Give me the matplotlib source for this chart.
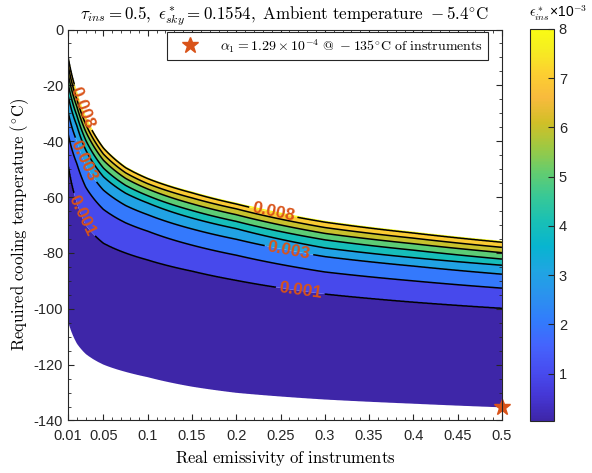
import matplotlib
matplotlib.use('Agg')
import matplotlib.pyplot as plt
import numpy as np
from matplotlib.cm import ScalarMappable
from matplotlib.colors import LinearSegmentedColormap, Normalize
from matplotlib.ticker import FixedLocator, MultipleLocator

plt.rcParams['mathtext.fontset'] = 'cm'
plt.rcParams['font.family'] = ['Liberation Sans', 'DejaVu Sans']
plt.rcParams['axes.unicode_minus'] = False

emissivity = [0.01, 0.02, 0.03, 0.05, 0.075, 0.1, 0.15, 0.2, 0.3, 0.4, 0.5]

# temperature (deg C) of each contour, one value per emissivity above
t_bottom = [-104.6, -112.5, -116.2, -120.0, -122.6, -124.5, -127.9, -130.1, -132.5, -134.0, -135.3]
t_lvl1 = [-48.0, -62.0, -70.0, -76.5, -80.0, -82.5, -86.5, -89.8, -94.7, -97.6, -99.8]
t_lvl2 = [-37.1, -48.0, -56.4, -64.4, -69.2, -72.2, -77.2, -80.8, -86.8, -90.0, -92.6]
t_lvl3 = [-29.3, -40.0, -48.6, -57.5, -63.0, -66.3, -71.4, -75.1, -81.3, -84.7, -87.6]
t_lvl4 = [-23.4, -34.4, -43.1, -52.7, -58.6, -62.1, -67.5, -71.3, -78.2, -81.7, -84.4]
t_lvl5 = [-19.1, -30.8, -39.6, -49.6, -55.8, -59.5, -64.8, -68.7, -75.3, -79.0, -82.2]
t_lvl6 = [-15.6, -27.6, -36.5, -46.8, -53.3, -57.1, -62.4, -66.3, -73.0, -76.7, -79.9]
t_lvl7 = [-12.5, -25.0, -33.9, -44.6, -51.3, -55.2, -60.3, -64.2, -70.9, -74.7, -78.0]
t_lvl8 = [-9.8, -22.6, -31.6, -42.5, -49.5, -53.4, -58.5, -62.5, -69.0, -72.9, -76.2]
t_top = [-9.0, -22.0, -31.0, -42.0, -49.0, -53.0, -58.0, -62.0, -68.5, -72.4, -75.7]

levels = [0.001, 0.002, 0.003, 0.004, 0.005, 0.006, 0.007, 0.008]
labelled_levels = [0.001, 0.003, 0.008]
eps_bottom = 0.0     # value on the lower edge of the region
eps_top = 0.0081     # value on the upper edge of the region
cbar_min = 0.00004

x_ticks = [0.01, 0.05, 0.1, 0.15, 0.2, 0.25, 0.3, 0.35, 0.4, 0.45, 0.5]
x_tick_labels = ['0.01', '0.05', '0.1', '0.15', '0.2', '0.25', '0.3', '0.35', '0.4', '0.45', '0.5']
star_point = (0.5, -135)

# parula (MATLAB) colour map
parula_rgb = [
    (0.2422, 0.1504, 0.6603), (0.2706, 0.2147, 0.8364), (0.2813, 0.3006, 0.9414),
    (0.2699, 0.3892, 0.9906), (0.1963, 0.4847, 0.9892), (0.1687, 0.5703, 0.9359),
    (0.1248, 0.6459, 0.8883), (0.0297, 0.7082, 0.8163), (0.0964, 0.7500, 0.7120),
    (0.2161, 0.7843, 0.5923), (0.3909, 0.8029, 0.4354), (0.6174, 0.7876, 0.2612),
    (0.8203, 0.7498, 0.1535), (0.9728, 0.7298, 0.2394), (0.9892, 0.8136, 0.1885),
    (0.9628, 0.9373, 0.1265), (0.9769, 0.9839, 0.0805)]
parula_pos = [0, 4, 8, 12, 16, 20, 24, 28, 32, 36, 40, 44, 48, 52, 56, 60, 63]
parula = LinearSegmentedColormap.from_list(
    'parula', [(p / 63, c) for p, c in zip(parula_pos, parula_rgb)])

# build the field from the read contour positions; values run on a little
# past the edges so the filled region gets clean borders
curves = [t_bottom, t_lvl1, t_lvl2, t_lvl3, t_lvl4, t_lvl5, t_lvl6, t_lvl7, t_lvl8, t_top]
curve_values = [-0.002, eps_bottom] + levels + [eps_top, 0.0101]
e_grid = np.linspace(0.01, 0.5, 700)
t_grid = np.linspace(-140, 0, 1100)
log_e = np.log(emissivity)
curve_grid = [np.interp(np.log(e_grid), log_e, c) for c in curves]

field = np.empty((len(t_grid), len(e_grid)))
for j in range(len(e_grid)):
    knots = [curve_grid[0][j] - 40] + [c[j] for c in curve_grid] + [curve_grid[-1][j] + 40]
    field[:, j] = np.interp(t_grid, knots, curve_values)

norm = Normalize(vmin=cbar_min, vmax=0.008)
fill_levels = [eps_bottom] + levels + [eps_top]
fill_colors = [parula(norm(v)) for v in [cbar_min] + levels]

fig = plt.figure(figsize=(5.92, 4.73), dpi=100)
ax = fig.add_axes([0.1149, 0.111, 0.733, 0.8266])

ax.contourf(e_grid, t_grid, field, levels=fill_levels, colors=fill_colors,
            antialiased=True)
plain_levels = [v for v in levels if v not in labelled_levels]
ax.contour(e_grid, t_grid, field, levels=plain_levels, colors='k', linewidths=1.1)
cs = ax.contour(e_grid, t_grid, field, levels=labelled_levels, colors='k', linewidths=1.1)

ax.set_xlim(0.01, 0.5)
ax.set_ylim(-140, 0)

label_spots = [(0.026, -28), (0.242, -65), (0.028, -47), (0.259, -80),
               (0.033, -66), (0.272, -94)]
texts = cs.clabel(manual=label_spots, inline=True, fmt='%.3f',
                  colors='#D95319', fontsize=12.5, inline_spacing=3)
for t in texts:
    t.set_fontweight('bold')

ax.plot(*star_point, marker='*', color='#D95319', ms=12, ls='none', clip_on=False,
        label=r'$\alpha_1 = 1.29\times10^{-4}\ @\ -135^{\circ}\mathrm{C\ of\ instruments}$')
leg = ax.legend(loc='upper right', bbox_to_anchor=(0.968, 0.994), borderaxespad=0,
                fancybox=False, framealpha=1, edgecolor='#262626', fontsize=10,
                handlelength=2.6, handletextpad=0.9, borderpad=0.35)
leg.get_frame().set_linewidth(0.8)

ax.set_xticks(x_ticks)
ax.set_xticklabels(x_tick_labels)
ax.xaxis.set_minor_locator(FixedLocator(np.arange(0.01, 0.5001, 0.01)))
ax.set_yticks(np.arange(-140, 1, 20))
ax.yaxis.set_minor_locator(MultipleLocator(5))
ax.tick_params(which='both', direction='in', top=True, right=True,
               colors='#262626', labelsize=10.5)
ax.tick_params(axis='x', which='major', pad=6)
ax.tick_params(which='major', length=4)
ax.tick_params(which='minor', length=2)
for s in ax.spines.values():
    s.set_color('#262626')
    s.set_linewidth(0.8)

ax.set_title(r'$\tau_{ins} = 0.5,\ \epsilon^*_{sky} = 0.1554,\ \mathrm{Ambient\ temperature}\ -5.4^{\circ}\mathrm{C}$',
             fontsize=12.2, pad=7)
ax.set_xlabel(r'$\mathrm{Real\ emissivity\ of\ instruments}$', fontsize=12, labelpad=4)
ax.set_ylabel(r'$\mathrm{Required\ cooling\ temperature\ (^{\circ}C)}$', fontsize=12, labelpad=2)

cax = fig.add_axes([0.8953, 0.11, 0.0405, 0.8287])
cb = fig.colorbar(ScalarMappable(norm=norm, cmap=parula), cax=cax, ticks=levels)
cb.set_ticklabels([str(i) for i in range(1, 9)])
cb.outline.set_edgecolor('#262626')
cb.outline.set_linewidth(0.8)
cax.tick_params(direction='in', length=4, colors='#262626', labelsize=10.5)
fig.text(0.893, 0.972, r'$\epsilon^*_{ins}$' + '×10$^{\mathsf{-3}}$', ha='left',
         va='center', fontsize=10)

fig.savefig('out.png', dpi=100)
